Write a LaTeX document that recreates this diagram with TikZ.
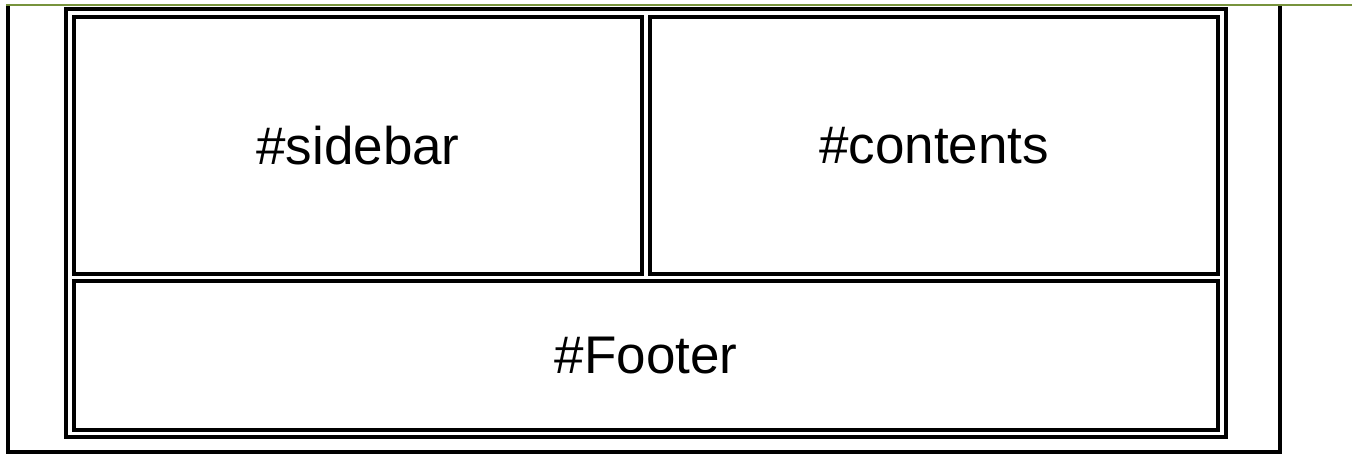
\documentclass[tikz,border=0pt]{standalone}
\usepackage{fontspec}
\setmainfont{Liberation Sans}
\definecolor{topgreen}{HTML}{77933C}
\begin{document}
\begin{tikzpicture}[x=1pt,y=-1pt,
  cell/.style={draw=black,line width=4pt,inner sep=0pt,anchor=north west,
    font=\fontsize{53}{62}\selectfont},
  framebox/.style={draw=black,line width=4pt}]
\useasboundingbox (0,0) rectangle (1356,454);
% top green rule
\coordinate (gl) at (6,5);
\coordinate (gr) at (1352,5);
\draw[topgreen,line width=2.5pt] (gl) -- (gr);
% outer frame (open at the top)
\coordinate (ftl) at (8,6.2);
\coordinate (fbl) at (8,451.5);
\coordinate (fbr) at (1280,451.5);
\coordinate (ftr) at (1280,6.2);
\draw[framebox,line join=miter] (ftl) -- (fbl) -- (fbr) -- (ftr);
% table outer border
\node[cell,minimum width=1160pt,minimum height=427.5pt] (table) at (64,7.5) {};
% cells
\node[cell,minimum width=568pt,minimum height=256.5pt] (sidebar) at (72,15.5) {\#sidebar};
\node[cell,minimum width=568pt,minimum height=256.5pt] (contents) at (648,15.5) {\#contents};
\node[cell,minimum width=1144pt,minimum height=149pt] (footer) at (72,279) {\#Footer};
\end{tikzpicture}
\end{document}
